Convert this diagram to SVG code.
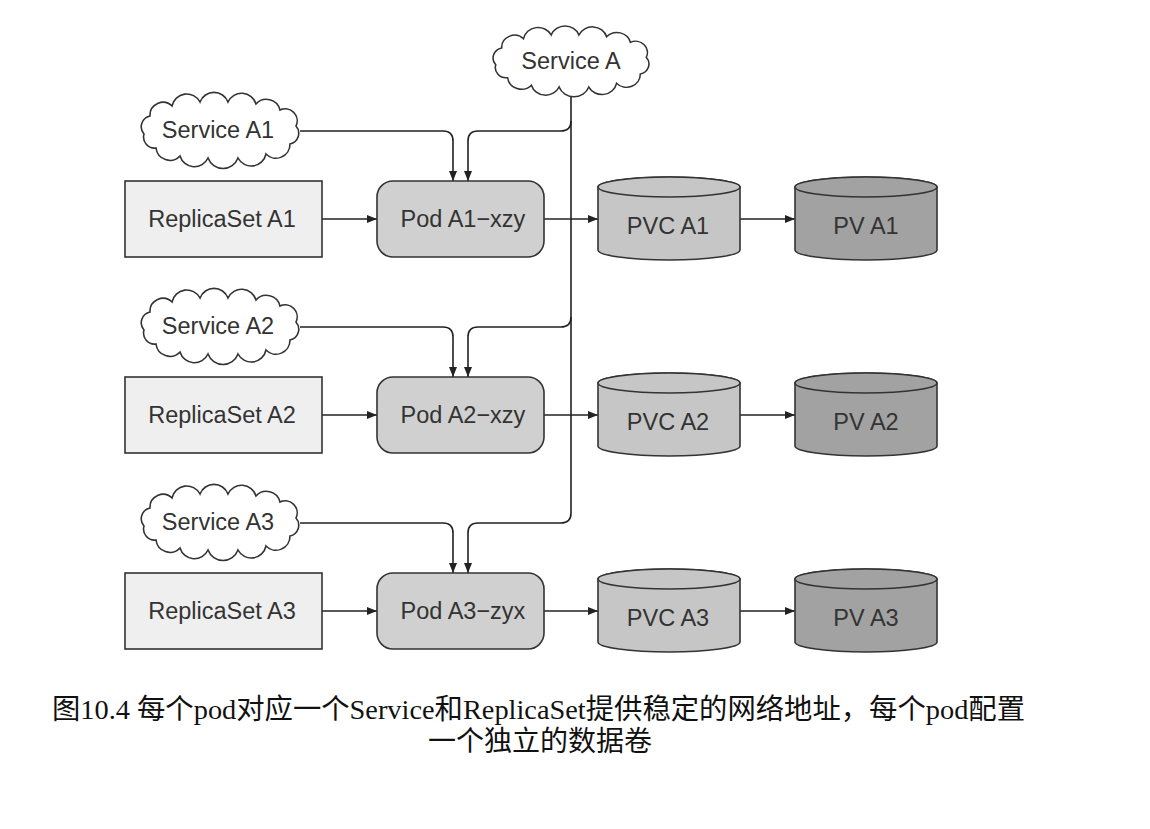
<svg xmlns="http://www.w3.org/2000/svg" xmlns:xlink="http://www.w3.org/1999/xlink" width="1150" height="829" viewBox="0 0 1150 829">
<style>
.lbl{font-family:"Liberation Sans","Noto Sans",Arial,sans-serif;font-size:23.5px;fill:#333;text-anchor:middle}
.cap{font-family:"Liberation Serif","Noto Sans CJK SC",serif;fill:#111}
.shape{stroke:#333;stroke-width:1.6}
.rs{fill:#efefef}
.pod{fill:#d0d0d0}
.pvc{fill:#c6c6c6}
.pv{fill:#a2a2a2}
.cloud{fill:#fff;stroke:#333;stroke-width:1.6}
.conn{fill:none;stroke:#222;stroke-width:1.6}
</style>
<defs>
<marker id="arr" viewBox="0 0 10 8" refX="10" refY="4" markerWidth="10" markerHeight="8" markerUnits="userSpaceOnUse" orient="auto">
<path d="M0,0 L10,4 L0,8 Z" fill="#222"/>
</marker>
<path id="cloud" d="M-76,4 A11,11 0 0 1 -70,-14 A13,13 0 0 1 -48,-24 A15,15 0 0 1 -20,-28 A15,15 0 0 1 8,-28 A15,15 0 0 1 36,-26 A14,14 0 0 1 60,-20 A12,12 0 0 1 76,-4 A11,11 0 0 1 70,14 A14,14 0 0 1 46,24 A15,15 0 0 1 18,28 A16,16 0 0 1 -12,28 A15,15 0 0 1 -40,26 A14,14 0 0 1 -64,18 A11,11 0 0 1 -76,4 Z"/>
</defs>

<g id="connectors">
<path class="conn" d="M571,92 V513 Q571,523 561,523 H478 Q468,523 468,533 V573" marker-end="url(#arr)"/>
<path class="conn" d="M571,121 Q571,131 561,131 H478 Q468,131 468,141 V181" marker-end="url(#arr)"/>
<path class="conn" d="M571,317 Q571,327 561,327 H478 Q468,327 468,337 V377" marker-end="url(#arr)"/>
<path class="conn" d="M300,131 H443 Q453,131 453,141 V181" marker-end="url(#arr)"/>
<path class="conn" d="M300,327 H443 Q453,327 453,337 V377" marker-end="url(#arr)"/>
<path class="conn" d="M300,523 H443 Q453,523 453,533 V573" marker-end="url(#arr)"/>
<path class="conn" d="M322,219 H377" marker-end="url(#arr)"/>
<path class="conn" d="M544,219 H598" marker-end="url(#arr)"/>
<path class="conn" d="M740,219 H795" marker-end="url(#arr)"/>
<path class="conn" d="M322,415 H377" marker-end="url(#arr)"/>
<path class="conn" d="M544,415 H598" marker-end="url(#arr)"/>
<path class="conn" d="M740,415 H795" marker-end="url(#arr)"/>
<path class="conn" d="M322,611 H377" marker-end="url(#arr)"/>
<path class="conn" d="M544,611 H598" marker-end="url(#arr)"/>
<path class="conn" d="M740,611 H795" marker-end="url(#arr)"/>
</g>

<g id="service-a">
<use xlink:href="#cloud" href="#cloud" class="cloud" transform="translate(571,61) scale(0.99,0.93)"/>
<text class="lbl" x="571" y="69">Service A</text>
</g>

<g id="service-a1">
<use xlink:href="#cloud" href="#cloud" class="cloud" transform="translate(220,130)"/>
<text class="lbl" x="218" y="138">Service A1</text>
</g>
<g id="service-a2">
<use xlink:href="#cloud" href="#cloud" class="cloud" transform="translate(220,326)"/>
<text class="lbl" x="218" y="334">Service A2</text>
</g>
<g id="service-a3">
<use xlink:href="#cloud" href="#cloud" class="cloud" transform="translate(220,522)"/>
<text class="lbl" x="218" y="530">Service A3</text>
</g>

<g id="replicaset-a1">
<rect class="shape rs" x="125" y="181" width="197" height="76"/>
<text class="lbl" x="222" y="227">ReplicaSet A1</text>
</g>
<g id="replicaset-a2">
<rect class="shape rs" x="125" y="377" width="197" height="76"/>
<text class="lbl" x="222" y="423">ReplicaSet A2</text>
</g>
<g id="replicaset-a3">
<rect class="shape rs" x="125" y="573" width="197" height="76"/>
<text class="lbl" x="222" y="619">ReplicaSet A3</text>
</g>

<g id="pod-a1">
<rect class="shape pod" x="377" y="181" width="167" height="76" rx="16"/>
<text class="lbl" x="463" y="227">Pod A1−xzy</text>
</g>
<g id="pod-a2">
<rect class="shape pod" x="377" y="377" width="167" height="76" rx="16"/>
<text class="lbl" x="463" y="423">Pod A2−xzy</text>
</g>
<g id="pod-a3">
<rect class="shape pod" x="377" y="573" width="167" height="76" rx="16"/>
<text class="lbl" x="463" y="619">Pod A3−zyx</text>
</g>

<g id="pvc-a1">
<path class="shape pvc" d="M598,187 V250 A71,10 0 0 0 740,250 V187 A71,10 0 0 0 598,187 Z"/>
<ellipse class="shape pvc" cx="669" cy="187" rx="71" ry="10"/>
<text class="lbl" x="668" y="234">PVC A1</text>
</g>
<g id="pvc-a2">
<path class="shape pvc" d="M598,383 V446 A71,10 0 0 0 740,446 V383 A71,10 0 0 0 598,383 Z"/>
<ellipse class="shape pvc" cx="669" cy="383" rx="71" ry="10"/>
<text class="lbl" x="668" y="430">PVC A2</text>
</g>
<g id="pvc-a3">
<path class="shape pvc" d="M598,579 V642 A71,10 0 0 0 740,642 V579 A71,10 0 0 0 598,579 Z"/>
<ellipse class="shape pvc" cx="669" cy="579" rx="71" ry="10"/>
<text class="lbl" x="668" y="626">PVC A3</text>
</g>

<g id="pv-a1">
<path class="shape pv" d="M795,187 V250 A71,10 0 0 0 937,250 V187 A71,10 0 0 0 795,187 Z"/>
<ellipse class="shape pv" cx="866" cy="187" rx="71" ry="10"/>
<text class="lbl" x="866" y="234">PV A1</text>
</g>
<g id="pv-a2">
<path class="shape pv" d="M795,383 V446 A71,10 0 0 0 937,446 V383 A71,10 0 0 0 795,383 Z"/>
<ellipse class="shape pv" cx="866" cy="383" rx="71" ry="10"/>
<text class="lbl" x="866" y="430">PV A2</text>
</g>
<g id="pv-a3">
<path class="shape pv" d="M795,579 V642 A71,10 0 0 0 937,642 V579 A71,10 0 0 0 795,579 Z"/>
<ellipse class="shape pv" cx="866" cy="579" rx="71" ry="10"/>
<text class="lbl" x="866" y="626">PV A3</text>
</g>

<g id="caption">
<text class="cap" x="52" y="719" font-size="28" textLength="973" lengthAdjust="spacingAndGlyphs">图10.4 每个pod对应一个Service和ReplicaSet提供稳定的网络地址，每个pod配置</text>
<text class="cap" x="540" y="751" font-size="28" text-anchor="middle">一个独立的数据卷</text>
</g>
</svg>
